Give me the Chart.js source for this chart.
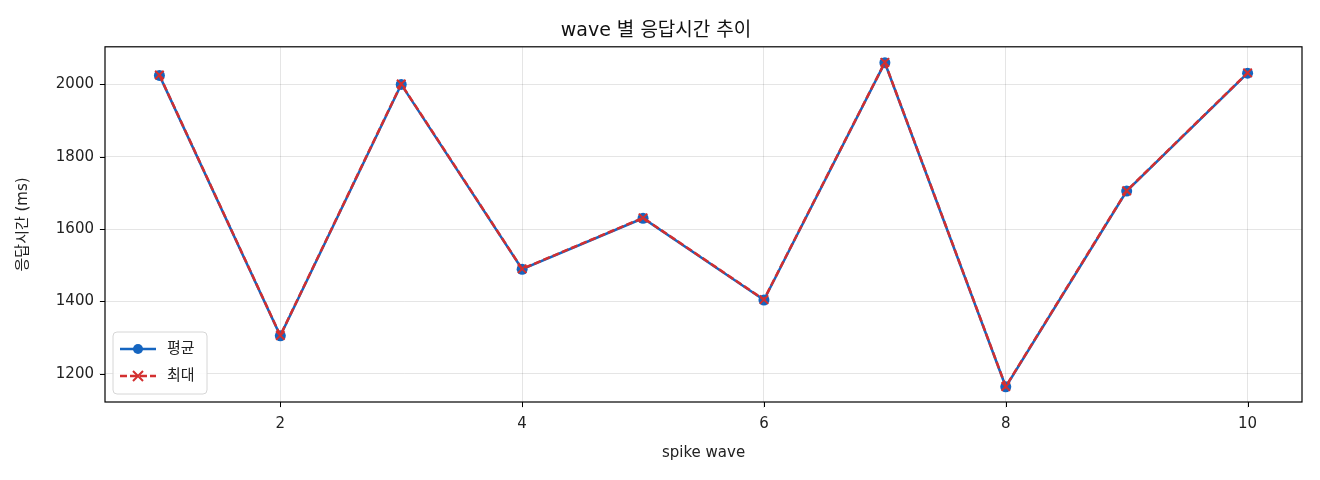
<!DOCTYPE html>
<html>
<head>
<meta charset="utf-8">
<script src="https://cdn.jsdelivr.net/npm/chart.js@4.4.1/dist/chart.umd.min.js"></script>
<style>
  html, body { margin: 0; padding: 0; background: #fff; }
  #wrap { width: 1320px; height: 480px; position: relative; }
</style>
</head>
<body>
<div id="wrap"><canvas id="chart" width="1320" height="480"></canvas></div>
<script>
  // wave 별 응답시간 (ms)
  const waves = [1, 2, 3, 4, 5, 6, 7, 8, 9, 10];
  const avgMs = [2025, 1305, 2000, 1489, 1630, 1404, 2060, 1164, 1705, 2031];
  const maxMs = [2026, 1306, 2001, 1490, 1631, 1405, 2061, 1165, 1706, 2032];
  const xTicks = [2, 4, 6, 8, 10];
  const yTicks = [1200, 1400, 1600, 1800, 2000];

  const BLUE = '#1565c0';
  const RED = '#d32f2f';
  const FONT = "'DejaVu Sans', 'Noto Sans CJK KR', sans-serif";

  // 범례: 플롯 안 왼쪽 아래 (matplotlib 스타일)
  const legendBox = {
    id: 'legendBox',
    afterDraw(chart) {
      const { ctx, chartArea: a } = chart;
      const x = a.left + 8, y = a.bottom - 70, w = 94, h = 62;
      ctx.save();
      ctx.fillStyle = 'rgba(255,255,255,0.85)';
      ctx.strokeStyle = '#d6d6d6';
      ctx.lineWidth = 1;
      ctx.beginPath();
      ctx.roundRect(x, y, w, h, 4);
      ctx.fill();
      ctx.stroke();

      chart.data.datasets.forEach((ds, i) => {
        const cy = y + 17 + i * 27;
        ctx.strokeStyle = ds.borderColor;
        ctx.lineWidth = 2.5;
        ctx.setLineDash(ds.borderDash || []);
        ctx.beginPath();
        ctx.moveTo(x + 7, cy);
        ctx.lineTo(x + 43, cy);
        ctx.stroke();
        ctx.setLineDash([]);
        const mx = x + 25;
        if (ds.pointStyle === 'circle') {
          ctx.fillStyle = ds.borderColor;
          ctx.beginPath();
          ctx.arc(mx, cy, 5, 0, Math.PI * 2);
          ctx.fill();
        } else {
          ctx.lineWidth = 2;
          ctx.beginPath();
          ctx.moveTo(mx - 5, cy - 5); ctx.lineTo(mx + 5, cy + 5);
          ctx.moveTo(mx - 5, cy + 5); ctx.lineTo(mx + 5, cy - 5);
          ctx.stroke();
        }
        ctx.fillStyle = '#222';
        ctx.font = '15px ' + FONT;
        ctx.textBaseline = 'middle';
        ctx.fillText(ds.label, x + 54, cy);
      });
      ctx.restore();
    }
  };

  // 플롯 테두리 + 바깥쪽 눈금
  const frame = {
    id: 'frame',
    afterDatasetsDraw(chart) {
      const { ctx, chartArea: a, scales } = chart;
      ctx.save();
      ctx.strokeStyle = '#000';
      ctx.lineWidth = 1.2;
      ctx.strokeRect(a.left, a.top, a.right - a.left, a.bottom - a.top);
      ctx.lineWidth = 1;
      ctx.beginPath();
      xTicks.forEach((v) => {
        const px = Math.round(scales.x.getPixelForValue(v)) + 0.5;
        ctx.moveTo(px, a.bottom); ctx.lineTo(px, a.bottom + 5);
      });
      yTicks.forEach((v) => {
        const py = Math.round(scales.y.getPixelForValue(v)) + 0.5;
        ctx.moveTo(a.left, py); ctx.lineTo(a.left - 5, py);
      });
      ctx.stroke();
      ctx.restore();
    }
  };

  new Chart(document.getElementById('chart'), {
    type: 'line',
    data: {
      datasets: [
        {
          label: '평균',
          data: waves.map((w, i) => ({ x: w, y: avgMs[i] })),
          borderColor: BLUE,
          backgroundColor: BLUE,
          borderWidth: 2.5,
          pointStyle: 'circle',
          pointRadius: 5.5,
          pointBorderWidth: 0,
          tension: 0,
          order: 2
        },
        {
          label: '최대',
          data: waves.map((w, i) => ({ x: w, y: maxMs[i] })),
          borderColor: RED,
          backgroundColor: RED,
          borderWidth: 2.5,
          borderDash: [7, 3],
          pointStyle: 'crossRot',
          pointRadius: 6,
          pointBorderWidth: 2,
          tension: 0,
          order: 1
        }
      ]
    },
    options: {
      responsive: false,
      animation: false,
      layout: { padding: { left: 10, right: 18, top: 4, bottom: 14 } },
      plugins: {
        legend: { display: false },
        tooltip: { enabled: false },
        title: {
          display: true,
          text: 'wave 별 응답시간 추이',
          color: '#111',
          font: { family: FONT, size: 19, weight: 'normal' },
          padding: { top: 16, bottom: 4 }
        }
      },
      scales: {
        x: {
          type: 'linear',
          min: 0.55,
          max: 10.45,
          afterBuildTicks: (s) => { s.ticks = xTicks.map(v => ({ value: v })); },
          ticks: { color: '#222', font: { family: FONT, size: 15 }, padding: 7, callback: (v) => String(v) },
          grid: { color: 'rgba(0,0,0,0.1)', tickLength: 6, drawTicks: true },
          border: { display: false },
          title: { display: true, text: 'spike wave', color: '#222', font: { family: FONT, size: 15 }, padding: { top: 4 } }
        },
        y: {
          min: 1122,
          max: 2104,
          afterBuildTicks: (s) => { s.ticks = yTicks.map(v => ({ value: v })); },
          afterFit: (s) => { s.width = 95; },
          ticks: { color: '#222', font: { family: FONT, size: 15 }, padding: 5, callback: (v) => String(v) },
          grid: { color: 'rgba(0,0,0,0.1)', tickLength: 6 },
          border: { display: false },
          title: { display: true, text: '응답시간 (ms)', color: '#222', font: { family: FONT, size: 15 }, padding: { bottom: 6 } }
        }
      }
    },
    plugins: [frame, legendBox]
  });
</script>
</body>
</html>
